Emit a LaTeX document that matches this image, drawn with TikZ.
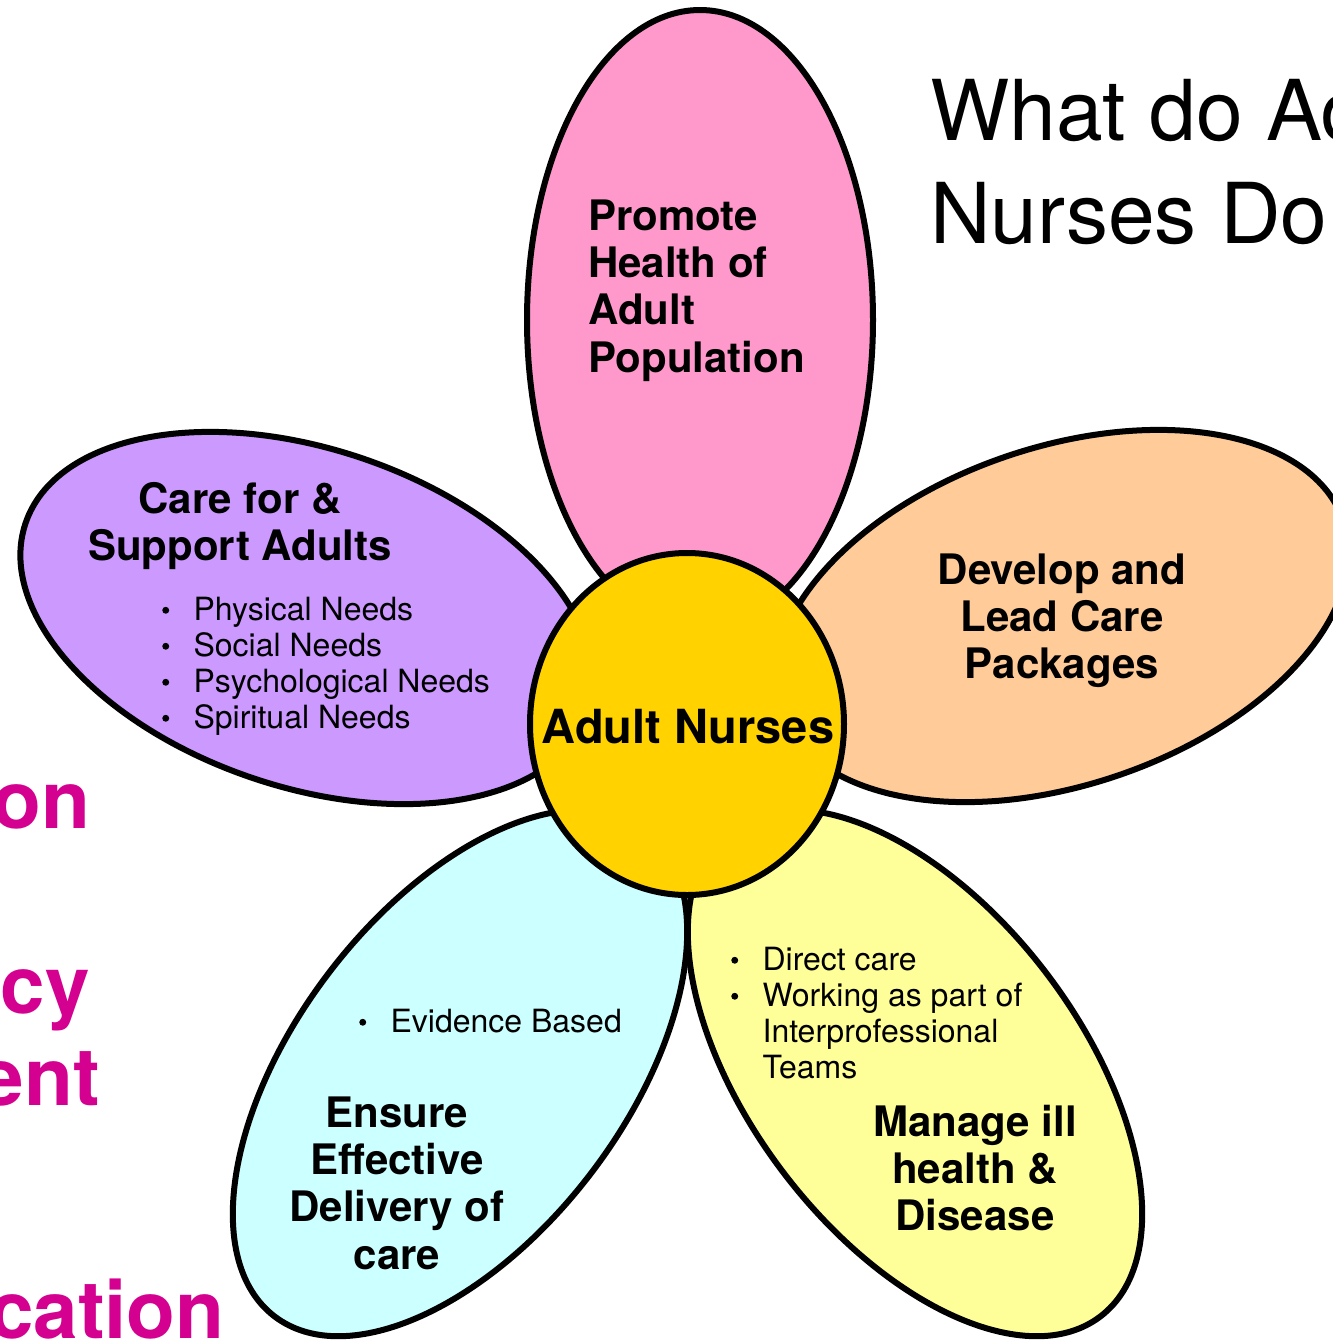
\documentclass[tikz,border=0pt]{standalone}
\usepackage{fontspec}
\setmainfont{TeX Gyre Heros}
\usepackage{graphicx}
\usetikzlibrary{shapes.geometric}
\definecolor{pinkc}{HTML}{FF99CC}
\definecolor{purplec}{HTML}{CC99FF}
\definecolor{orangec}{HTML}{FFCC99}
\definecolor{yellowc}{HTML}{FFFF99}
\definecolor{cyanc}{HTML}{CCFFFF}
\definecolor{goldc}{HTML}{FFD200}
\definecolor{magc}{HTML}{D4008F}
\newcommand\tabL[1]{\begin{tabular}[t]{@{}l@{}}#1\end{tabular}}
\newcommand\tabC[1]{\begin{tabular}[t]{@{}c@{}}#1\end{tabular}}
\newcommand\bl{\makebox[23.5pt][l]{\tikz[x=1pt,y=1pt,baseline=0pt]{\path (0,0) rectangle (5.2,0);\fill (2.6,7.3) circle (2.6);}}}
\newcommand\ind{\hspace*{23.5pt}}
\begin{document}
\begin{tikzpicture}[x=0.75pt,y=-0.75pt,
  petal/.style={ellipse, draw=black, line width=4.5pt, inner sep=0pt, outer sep=0pt},
  headtxt/.style={inner sep=0pt, font=\fontsize{31.5pt}{35.6pt}\selectfont\bfseries},
  listtxt/.style={inner sep=0pt, font=\fontsize{24pt}{27pt}\selectfont},
  hubtxt/.style={inner sep=0pt, font=\fontsize{35.25pt}{40pt}\selectfont\bfseries},
  titletxt/.style={inner sep=0pt, font=\fontsize{63pt}{77.25pt}\selectfont},
  magtxt/.style={inner sep=0pt, text=magc, font=\fontsize{60pt}{72pt}\selectfont\bfseries}]
\useasboundingbox (0,0) rectangle (1333,1340);
\clip (0,0) rectangle (1333,1340);

% petals
\node[petal, fill=pinkc, minimum width=259.5pt, minimum height=465pt] (pink) at (700,320) {};
\node[petal, fill=purplec, minimum width=445.5pt, minimum height=253.5pt, rotate=-18.6] (purple) at (307,618) {};
\node[petal, fill=orangec, minimum width=445.5pt, minimum height=253.5pt, rotate=18.6] (orange) at (1062,616) {};
\node[petal, fill=yellowc, minimum width=459pt, minimum height=247.5pt, rotate=-52.7] (yellow) at (915,1073) {};
\node[petal, fill=cyanc, minimum width=459pt, minimum height=247.5pt, rotate=52.7] (cyan) at (460,1073) {};
\node[petal, fill=goldc, minimum width=235.5pt, minimum height=256.5pt] (hub) at (687,724) {};

% texts
\node[headtxt, anchor=base west] (tpink) at (588,230) {\tabL{Promote\\Health of\\Adult\\Population}};
\node[headtxt, anchor=base] (tpurple) at (240,513) {\tabC{Care for \&\\Support Adults}};
\node[listtxt, anchor=base west] (lpurple) at (162,620) {\tabL{\bl Physical Needs\\\bl Social Needs\\\bl Psychological Needs\\\bl Spiritual Needs}};
\node[headtxt, anchor=base] (torange) at (1062,584) {\tabC{Develop and\\Lead Care\\Packages}};
\node[hubtxt, anchor=base] (thub) at (688,743) {Adult Nurses};
\node[listtxt, anchor=base west] (lyellow) at (731,970) {\tabL{\bl Direct care\\\bl Working as part of\\\ind Interprofessional\\\ind Teams}};
\node[headtxt, anchor=base] (tyellow) at (975,1136) {\tabC{Manage ill\\health \&\\Disease}};
\node[listtxt, anchor=base west] (lcyan) at (359,1032) {\bl Evidence Based};
\node[headtxt, anchor=base] (tcyan) at (397,1127) {\tabC{Ensure\\Effective\\Delivery of\\care}};

% title (cut off at the right edge, as in the reference)
\node[titletxt, anchor=base west] (title) at (930,140) {\tabL{What do Ad\\Nurses Do}};

% magenta fragments (cut off at the left edge, as in the reference)
\node[magtxt, anchor=base east] (m1) at (91,828) {on};
\node[magtxt, anchor=base east] (m2) at (90,1013) {cy};
\node[magtxt, anchor=base east] (m3) at (100,1105) {ent};
\node[magtxt, anchor=base east] (m4) at (225,1338) {cation};
\end{tikzpicture}
\end{document}
